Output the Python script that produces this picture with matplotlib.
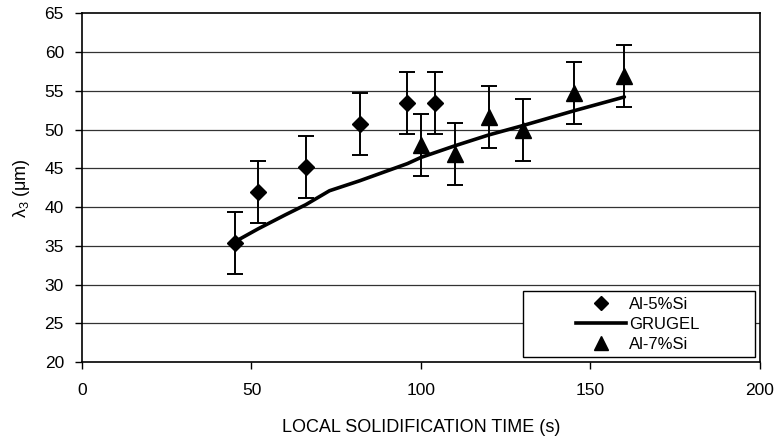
import matplotlib

matplotlib.use("Agg")
import matplotlib.pyplot as plt
from matplotlib.lines import Line2D
from matplotlib.patches import Rectangle
import numpy as np

# Al-5%Si measurements
al5_time = [45, 52, 66, 82, 96, 104]
al5_lam = [35.4, 42.0, 45.2, 50.7, 53.4, 53.4]
al5_err = [4.0, 4.0, 4.0, 4.0, 4.0, 4.0]

# Al-7%Si measurements
al7_time = [100, 110, 120, 130, 145, 160]
al7_lam = [48.0, 46.8, 51.6, 49.9, 54.7, 56.9]
al7_err = [4.0, 4.0, 4.0, 4.0, 4.0, 4.0]

# Grugel model curve
grugel_time = [45, 52, 60, 66, 73, 82, 96, 100, 104, 110, 120, 130, 145, 160]
grugel_lam = [35.5, 37.2, 39.0, 40.3, 42.1, 43.4, 45.6, 46.4, 47.0, 47.9, 49.3, 50.5, 52.4, 54.2]

plt.rcParams["font.family"] = ["Liberation Sans", "DejaVu Sans"]
plt.rcParams["mathtext.fontset"] = "custom"
plt.rcParams["mathtext.rm"] = "Liberation Sans"
plt.rcParams["mathtext.it"] = "Liberation Sans"

fig = plt.figure(figsize=(7.75, 4.4), dpi=100)
ax = fig.add_axes([0.1058, 0.177, 0.8748, 0.793])

for y in np.arange(25, 65, 5):
    ax.axhline(y, color="#333333", lw=0.9, zorder=1)

eb_kw = dict(ecolor="black", elinewidth=1.4, capsize=5.5, capthick=1.4, ls="none")
ax.errorbar(al5_time, al5_lam, yerr=al5_err, fmt="D", ms=8.5, color="black",
            zorder=4, **eb_kw)
ax.plot(grugel_time, grugel_lam, color="black", lw=2.6, zorder=3,
        solid_capstyle="round")
ax.errorbar(al7_time, al7_lam, yerr=al7_err, fmt="^", ms=12, color="black",
            zorder=4, **eb_kw)

ax.set_xlim(0, 200)
ax.set_ylim(20, 65)
ax.set_xticks([0, 50, 100, 150, 200])
ax.set_yticks(np.arange(20, 66, 5))
ax.tick_params(direction="out", length=5, width=1, labelsize=12.5)
ax.tick_params(axis="x", pad=10)
ax.tick_params(axis="y", pad=8)
for s in ax.spines.values():
    s.set_linewidth(1.2)

ax.set_xlabel("LOCAL SOLIDIFICATION TIME (s)", fontsize=13, labelpad=15)
ax.set_ylabel(r"$\lambda_3$ ($\mu$m)", fontsize=13, labelpad=9)

# legend: markers only, boxed frame drawn separately so handles sit right
handles = [
    Line2D([], [], ls="none", marker="D", ms=7.5, color="black"),
    Line2D([], [], color="black", lw=2.6),
    Line2D([], [], ls="none", marker="^", ms=10, color="black"),
]
labels = ["Al-5%Si", "GRUGEL", "Al-7%Si"]
leg = ax.legend(handles, labels, loc="lower left", bbox_to_anchor=(0.728, 0.03),
                fontsize=12, frameon=False, borderpad=0, labelspacing=0.3,
                handlelength=3.0, handletextpad=0.2, borderaxespad=0)
leg.set_zorder(6)
ax.add_patch(Rectangle((0.651, 0.0143), 0.342, 0.189, transform=ax.transAxes,
                       facecolor="white", edgecolor="black", lw=1.0, zorder=5))

fig.savefig("out.png", dpi=100)
